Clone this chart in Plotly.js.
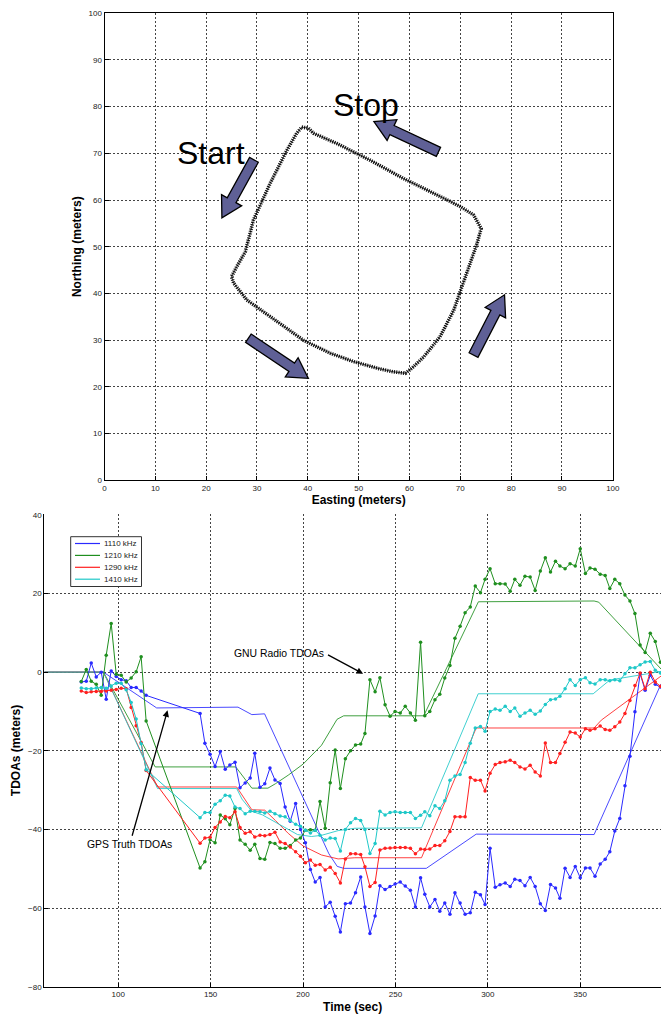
<!DOCTYPE html>
<html>
<head>
<meta charset="utf-8">
<script src="https://cdn.plot.ly/plotly-3.0.1.min.js"></script>
<style>
html,body{margin:0;padding:0;background:#fff;}
#chart{width:661px;height:1016px;}
</style>
</head>
<body>
<div id="chart"></div>
<script>
// ---------- Top panel: walked path (Easting / Northing, meters) ----------
const pathEasting  = [38.8,40.1,41.1,45.7,52.3,58.8,65.4,70.0,72.6,74.1,73.3,71.0,68.7,66.0,62.8,60.5,59.2,56.9,53.6,49.0,44.4,39.1,32.6,28.0,25.4,25.0,26.0,27.7,29.3,32.6,35.9,37.8,38.8];
const pathNorthing = [75.6,75.4,74.3,72.1,68.5,64.6,61.1,58.6,56.8,53.9,50.7,43.6,36.4,30.7,26.4,24.0,22.9,23.2,24.0,25.4,27.2,30.0,35.0,38.6,42.2,43.6,45.7,48.9,55.7,63.6,70.7,74.3,75.6];
const pathLabels = ["Start", "Stop"];

// ---------- Bottom panel: TDOAs (meters) vs time (sec) ----------
const seriesNames  = ["1110 kHz", "1210 kHz", "1290 kHz", "1410 kHz"];
const seriesColors = ["#2a2aff", "#1f8f1f", "#ff2020", "#1fc8c8"];

// GNU Radio TDOA estimates (sampled, shared time axis)
const gnuTime = [80,82.7,85.4,88.1,90.8,93.5,96.2,98.9,101.6,104.3,107.0,109.7,112.4,115.1,
 144.3,146.9,149.7,152.4,155.2,157.9,160.4,163.2,165.9,168.7,
 171.4,173.9,176.7,179.3,182.1,184.8,187.6,190.3,193.1,196.0,
 198.6,201.3,204.0,206.6,209.2,212.0,214.7,217.4,220.2,222.9,
 225.7,228.4,231.2,233.5,236.2,239.0,241.6,244.4,247.1,249.8,
 252.6,255.3,258.1,260.8,263.6,265.9,268.6,271.4,274.0,276.7,
 279.5,282.2,285.0,287.7,290.5,293.2,296.0,298.5,301.2,304.0,
 306.6,309.4,312.1,314.6,317.4,320.1,322.9,325.6,328.4,331.1,
 333.9,336.6,339.0,341.8,344.5,347.3,350.0,352.8,355.3,358.0,
 360.8,363.5,366.0,368.7,371.4,374.2,376.9,379.6,382.4,385.1,
 387.9,390.6,393.4];
const gnu1110 = [-2.5,-2.3,2.3,-1.2,0,-6.9,0.3,-1.1,-1.9,-2.2,-3.9,-3.9,-4.8,-5.9,
 -10.5,-18.1,-20.9,-24.0,-20.2,-24.7,-23.6,-22.9,-29.4,-28.2,
 -26.9,-20.6,-29.3,-28.4,-24.4,-27.4,-28.3,-34.3,-37.9,-33.4,
 -40.0,-43.4,-50.2,-53.4,-52.2,-59.7,-58.5,-62.1,-66.1,-58.9,
 -58.7,-56.1,-52.1,-59.7,-66.5,-62.0,-54.3,-55.3,-54.5,-53.9,
 -53.4,-54.4,-55.5,-59.7,-52.3,-56.5,-59.7,-57.8,-60.8,-58.7,
 -61.6,-56.1,-58.7,-61.6,-61.2,-56.0,-56.6,-59.1,-44.8,-54.7,
 -54.1,-53.6,-54.5,-52.7,-53.0,-54.3,-52.2,-54.5,-58.9,-60.6,
 -54.0,-54.9,-57.5,-49.9,-52.2,-49.4,-52.3,-49.8,-49.8,-51.9,
 -48.8,-47.6,-45.7,-40.4,-37.2,-28.9,-21.4,-10.1,-0.4,-4.6,
 -0.8,-3.1,-3.8];
const gnu1210 = [-2.4,0.7,-2.3,-3.1,-5.9,4.3,12.4,-0.5,-0.8,-2.5,-1.5,0.1,3.9,-12.4,
 -49.8,-48.2,-42.6,-43.4,-36.3,-37.3,-38.8,-34.7,-42.7,-43.8,
 -45.3,-43.8,-47.4,-47.6,-43.3,-43.6,-44.8,-44.8,-44.1,-42.7,
 -42.2,-40.2,-40.1,-40.2,-32.9,-39.7,-28.1,-19.8,-29.6,-22.0,
 -20.0,-18.5,-18.3,-15.6,-1.9,-5.0,-1.4,-8.3,-11.2,-10.0,
 -10.4,-8.7,-10.4,-12.2,7.6,-11.1,-10.0,-7.0,-5.6,-1.5,
 1.7,8.6,11.7,15.1,16.6,21.9,20.2,23.6,26.3,22.5,
 22.5,22.4,20.6,23.6,22.1,24.4,24.2,20.8,25.7,29.1,
 25.5,28.2,27.0,26.3,27.6,27.0,31.4,25.1,26.5,26.2,
 24.9,24.6,21.3,23.6,22.5,19.6,18.1,14.9,6.9,5.0,
 9.9,7.8,2.5];
const gnu1290 = [-4.8,-5.2,-5.0,-4.9,-4.9,-4.8,-4.6,-4.4,-4.1,-4.2,-9.0,-13.6,-17.9,-25.0,
 -43.5,-42.2,-42.0,-39.5,-38.1,-36.7,-37.0,-35.5,-39.5,-41.0,
 -40.6,-41.9,-41.5,-41.6,-41.3,-40.7,-43.2,-43.6,-44.5,-45.7,
 -46.8,-48.5,-47.8,-49.1,-48.9,-50.3,-49.6,-51.2,-53.6,-47.5,
 -46.2,-46.2,-46.4,-49.5,-54.5,-53.5,-45.2,-44.8,-44.7,-44.6,
 -44.6,-44.6,-44.8,-46.2,-45.0,-45.1,-45.0,-44.1,-44.1,-42.9,
 -40.5,-36.8,-36.8,-36.8,-26.8,-27.5,-27.5,-30.2,-25.7,-23.5,
 -23.0,-22.8,-22.4,-23.0,-24.1,-24.6,-23.7,-25.4,-26.4,-18.0,
 -23.0,-23.0,-20.7,-17.8,-15.2,-15.5,-16.5,-14.4,-14.8,-14.4,
 -13.7,-14.6,-14.8,-13.9,-12.7,-10.5,-7.2,-3.4,-0.2,-4.2,
 0.0,-2.5,-3.6];
const gnu1410 = [-4.0,-4.2,-4.2,-4.0,-3.9,-4.1,-3.5,-2.8,-2.8,-4.5,-7.7,-11.9,-18.2,-24.8,
 -37.0,-35.7,-35.7,-33.6,-32.7,-31.3,-31.5,-34.3,-34.7,-36.0,
 -35.4,-35.4,-35.5,-35.8,-35.4,-36.0,-36.6,-36.8,-37.7,-38.7,
 -39.2,-40.2,-40.9,-40.2,-41.5,-42.7,-42.2,-42.3,-45.5,-40.0,
 -38.3,-37.2,-37.7,-40.0,-46.1,-43.6,-35.4,-36.3,-35.7,-35.5,
 -35.7,-35.7,-35.7,-37.2,-36.4,-35.5,-36.5,-34.0,-34.7,-32.7,
 -27.5,-26.4,-26.0,-23.0,-18.1,-14.2,-13.8,-15.0,-10.0,-9.4,
 -9.7,-8.7,-10.0,-9.1,-11.2,-10.4,-9.7,-10.7,-9.9,-8.2,
 -7.0,-6.8,-6.1,-4.2,-1.9,-3.4,-1.9,-1.4,-2.7,-3.0,
 -1.9,-1.9,-2.2,-1.9,-2.2,-0.4,1.1,1.1,1.9,2.6,
 2.7,0.5,-0.2];

// GPS truth TDOAs (vertices of the piecewise curves)
const truthTime1110 = [60,92,120.8,164.8,172.3,179.2,214,218.5,222,266.7,293.7,357.5,393.7];
const truth1110     = [0,0,-9.1,-8.9,-10.8,-10.6,-46.2,-49.4,-49.9,-49.9,-41.2,-41.3,-3.0];
const truthTime1210 = [60,92,120,163.6,172.3,181,185,192,200,210,218.4,222,265.3,294.9,357.5,360,384.2,393.7];
const truth1210     = [0,0,-24.1,-24.1,-29.5,-29.5,-28.4,-26.2,-23.4,-18.6,-12.0,-11.1,-11.1,17.9,18.1,17.8,5.6,0.8];
const truthTime1290 = [60,92,121.3,164.1,172.3,179.3,185,192,200,210,219,228,264.1,293.7,357.5,361.4,393.7];
const truth1290     = [0,0,-29.2,-29.2,-35.0,-35.1,-37.7,-41.0,-44.2,-46.5,-47.5,-47.2,-47.2,-14.2,-14.2,-12.2,-1.0];
const truthTime1410 = [60,92,121.3,164.1,167,172.3,178,185,192,197,204.5,210,219,228,264.1,294.8,357,366,387.8,393.7];
const truth1410     = [0,0,-29.6,-29.6,-32.3,-35.4,-36.3,-38.1,-40.0,-41.3,-41.8,-41.5,-40.3,-39.7,-39.6,-5.5,-5.5,-2.0,-0.3,0.2];
const noteLabels = ["GNU Radio TDOAs", "GPS Truth TDOAs"];

// ---------- geometry ----------
const W = 661, H = 1016;
const topX = [104.5, 612.8], topY = [13.2, 480.2];     // pixel box of top axes
const botX = [44.3, W], botY = [514.3, 986.7];        // pixel box of bottom axes
const FONT = "Liberation Sans, Arial, sans-serif";

const truthTimes = [truthTime1110, truthTime1210, truthTime1290, truthTime1410];
const truthVals  = [truth1110, truth1210, truth1290, truth1410];
const gnuVals    = [gnu1110, gnu1210, gnu1290, gnu1410];

const traces = [];
// path: a speckled "rope" of dense star markers -> dotted thick stroke plus a thin core
traces.push({x: pathEasting, y: pathNorthing, xaxis: 'x', yaxis: 'y', mode: 'lines',
  line: {color: 'rgba(0,0,0,0.9)', width: 3.6, dash: '1.2px,1.1px'}, hoverinfo: 'skip', showlegend: false});
traces.push({x: pathEasting, y: pathNorthing, xaxis: 'x', yaxis: 'y', mode: 'lines',
  line: {color: 'rgba(0,0,0,0.7)', width: 1}, name: 'Path', showlegend: false});

for (let i = 0; i < 4; i++) {
  traces.push({x: truthTimes[i], y: truthVals[i], xaxis: 'x2', yaxis: 'y2', mode: 'lines',
    line: {color: seriesColors[i], width: 1}, opacity: 0.85, name: seriesNames[i] + ' truth', showlegend: false});
}
for (let i = 0; i < 4; i++) {
  traces.push({x: gnuTime, y: gnuVals[i], xaxis: 'x2', yaxis: 'y2', mode: 'lines+markers',
    line: {color: seriesColors[i], width: 1}, marker: {color: seriesColors[i], size: 3.5},
    name: seriesNames[i], showlegend: false});
}

// block arrows on top panel (drawn in pixel space, mapped back to data)
const sx = (topX[1] - topX[0]) / 100, sy = (topY[1] - topY[0]) / 100;
function blockArrow(tail, tip) {
  const x1 = tail[0]*sx, y1 = tail[1]*sy, x2 = tip[0]*sx, y2 = tip[1]*sy;
  const dx = x2-x1, dy = y2-y1, L = Math.hypot(dx, dy);
  const ux = dx/L, uy = dy/L, nx = -uy, ny = ux;
  const w = 5, hw = 11.5, hl = 20;
  const bx = x2 - ux*hl, by = y2 - uy*hl;
  const pts = [[x1+nx*w, y1+ny*w],[bx+nx*w, by+ny*w],[bx+nx*hw, by+ny*hw],[x2, y2],
               [bx-nx*hw, by-ny*hw],[bx-nx*w, by-ny*w],[x1-nx*w, y1-ny*w]];
  return 'M' + pts.map(p => (p[0]/sx).toFixed(3) + ',' + (p[1]/sy).toFixed(3)).join('L') + 'Z';
}
const arrowDefs = [
  [[29.4, 68.6], [23.1, 56.2]],
  [[65.7, 70.3], [53.0, 76.8]],
  [[28.3, 30.4], [40.1, 21.8]],
  [[72.6, 26.8], [78.7, 39.7]]
];
const shapes = arrowDefs.map(d => ({type: 'path', xref: 'x', yref: 'y', path: blockArrow(d[0], d[1]),
  fillcolor: '#5f6096', line: {color: '#000', width: 1.3}, layer: 'above'}));

// manual legend (compact, MATLAB style)
const lg = {x0: 70.7, x1: 141.5, y0: 536.7, y1: 586.5, rows: [543.5, 555.4, 567.3, 579.2]};
shapes.push({type: 'rect', xref: 'paper', yref: 'paper', x0: lg.x0/W, x1: lg.x1/W,
  y0: 1 - lg.y1/H, y1: 1 - lg.y0/H, fillcolor: '#fff', line: {color: '#333', width: 1}, layer: 'above'});
const annotations = [];
seriesNames.forEach((nm, i) => {
  const yy = 1 - lg.rows[i]/H;
  shapes.push({type: 'line', xref: 'paper', yref: 'paper', x0: 75/W, x1: 100/W, y0: yy, y1: yy,
    line: {color: seriesColors[i], width: 1.2}, layer: 'above'});
  annotations.push({xref: 'paper', yref: 'paper', x: 102.5/W, y: yy, xanchor: 'left', yanchor: 'middle',
    text: nm, showarrow: false, font: {family: FONT, size: 8, color: '#222'}});
});

// top panel big labels
annotations.push({xref: 'x', yref: 'y', x: 21.0, y: 70.0, text: pathLabels[0], showarrow: false,
  font: {family: FONT, size: 32, color: '#000'}});
annotations.push({xref: 'x', yref: 'y', x: 51.4, y: 80.3, text: pathLabels[1], showarrow: false,
  font: {family: FONT, size: 32, color: '#000'}});

// bottom panel notes with arrows
annotations.push({xref: 'x2', yref: 'y2', x: 187.2, y: 4.8, text: noteLabels[0], showarrow: false,
  font: {family: FONT, size: 10.4, color: '#000'}});
annotations.push({xref: 'x2', yref: 'y2', x: 232.5, y: -0.4, axref: 'x2', ayref: 'y2', ax: 212.7, ay: 4.6,
  text: '', showarrow: true, arrowhead: 2, arrowsize: 1, arrowwidth: 1.3, arrowcolor: '#000'});
annotations.push({xref: 'x2', yref: 'y2', x: 106.3, y: -43.9, text: noteLabels[1], showarrow: false,
  font: {family: FONT, size: 10.4, color: '#000'}});
annotations.push({xref: 'x2', yref: 'y2', x: 126.7, y: -9.7, axref: 'x2', ayref: 'y2', ax: 107.3, ay: -42.0,
  text: '', showarrow: true, arrowhead: 2, arrowsize: 1, arrowwidth: 1.3, arrowcolor: '#000'});

const tickFont = {family: FONT, size: 8, color: '#222'};
const titleFont = {family: FONT, size: 12, color: '#000', weight: 'bold'};
const gridCommon = {showgrid: true, gridcolor: '#444', gridwidth: 1, griddash: '2px,2px', zeroline: false,
  ticks: 'inside', ticklen: 4, tickcolor: '#000', showline: true, linecolor: '#000', linewidth: 1, tickfont: tickFont};

const layout = {
  width: W, height: H, margin: {l: 0, r: 0, t: 0, b: 0},
  paper_bgcolor: '#fff', plot_bgcolor: '#fff', showlegend: false,
  font: {family: FONT},
  xaxis: Object.assign({}, gridCommon, {domain: [topX[0]/W, topX[1]/W], anchor: 'y', range: [0, 100],
    dtick: 10, tick0: 0, mirror: true, title: {text: 'Easting (meters)', font: titleFont, standoff: 0}}),
  yaxis: Object.assign({}, gridCommon, {domain: [1 - topY[1]/H, 1 - topY[0]/H], anchor: 'x', range: [0, 100],
    dtick: 10, tick0: 0, mirror: true, title: {text: 'Northing (meters)', font: titleFont, standoff: 4}}),
  xaxis2: Object.assign({}, gridCommon, {domain: [botX[0]/W, botX[1]/W], anchor: 'y2', range: [60, 393.7],
    dtick: 50, tick0: 0, mirror: false, title: {text: 'Time (sec)', font: titleFont, standoff: 4}}),
  yaxis2: Object.assign({}, gridCommon, {domain: [1 - botY[1]/H, 1 - botY[0]/H], anchor: 'x2', range: [-80, 40.15],
    dtick: 20, tick0: 0, mirror: false, title: {text: 'TDOAs (meters)', font: titleFont, standoff: 4}}),
  shapes: shapes,
  annotations: annotations
};

Plotly.newPlot('chart', traces, layout, {displayModeBar: false, staticPlot: true});
</script>
</body>
</html>
